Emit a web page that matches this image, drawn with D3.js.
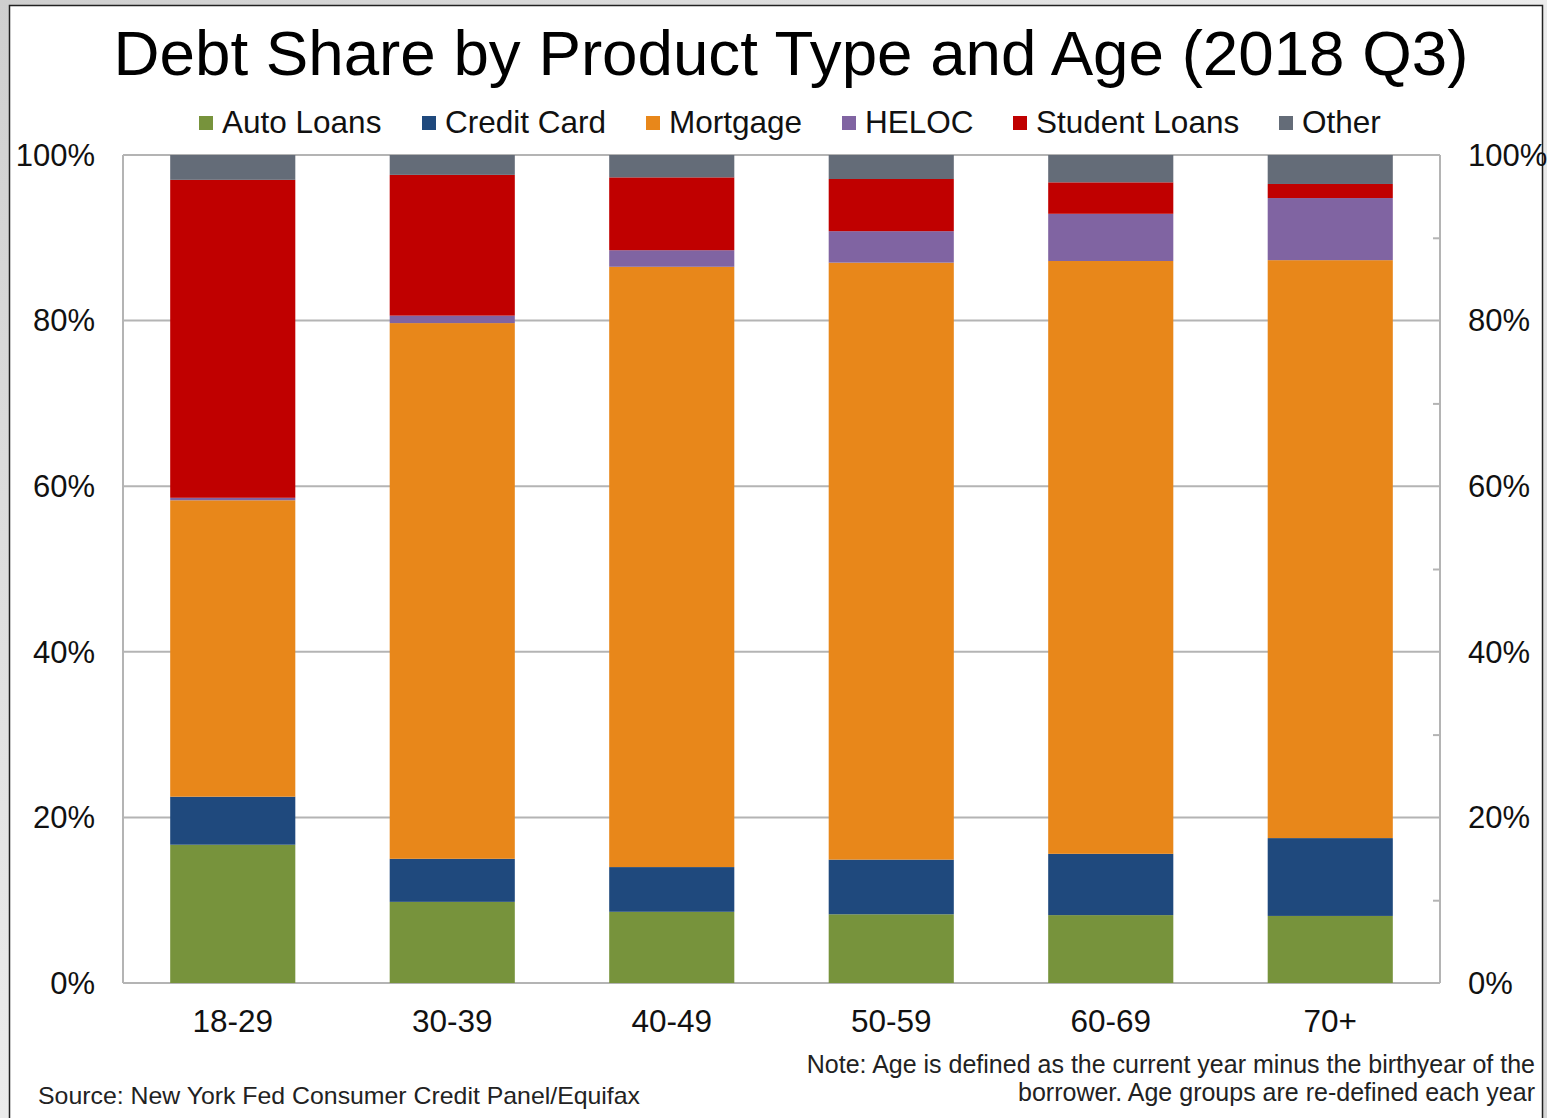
<!DOCTYPE html>
<html>
<head>
<meta charset="utf-8">
<script src="https://cdn.jsdelivr.net/npm/d3@7"></script>
<style>
  html, body { margin: 0; padding: 0; }
  body { width: 1547px; height: 1118px; overflow: hidden; background: #dcdcdc; }
  svg { display: block; font-family: "Liberation Sans", Arial, sans-serif; }
</style>
</head>
<body>
<svg id="chart" width="1547" height="1118"></svg>
<script>
const categories = ["18-29", "30-39", "40-49", "50-59", "60-69", "70+"];
const seriesNames = ["Auto Loans", "Credit Card", "Mortgage", "HELOC", "Student Loans", "Other"];
const autoLoans    = [16.7,  9.8,  8.6,  8.3,  8.2,  8.1];
const creditCard   = [ 5.8,  5.2,  5.4,  6.6,  7.4,  9.4];
const mortgage     = [35.8, 64.7, 72.5, 72.1, 71.6, 69.8];
const heloc        = [ 0.3,  0.9,  2.0,  3.8,  5.7,  7.5];
const studentLoans = [38.4, 17.0,  8.8,  6.3,  3.8,  1.7];
const other        = [ 3.0,  2.4,  2.7,  2.9,  3.3,  3.5];
const colors = ["#77933C", "#1F497D", "#E8871A", "#8064A2", "#C00000", "#646C78"];
const yTicks = [0, 20, 40, 60, 80, 100];
const yMinorTicks = [10, 30, 50, 70, 90];
const titleText = "Debt Share by Product Type and Age (2018 Q3)";
const sourceText = "Source: New York Fed Consumer Credit Panel/Equifax";
const noteLines = ["Note: Age is defined as the current year minus the birthyear of the",
                   "borrower. Age groups are re-defined each year"];

(function () {
const seriesValues = [autoLoans, creditCard, mortgage, heloc, studentLoans, other];
const rows = categories.map((c, i) => {
  const r = { cat: c };
  seriesNames.forEach((s, j) => r[s] = seriesValues[j][i]);
  return r;
});

const svg = d3.select("#chart");

// background texture
const defs = svg.append("defs");
const grad = defs.append("linearGradient").attr("id", "bg").attr("x1", 0).attr("y1", 0).attr("x2", 1).attr("y2", 1);
grad.append("stop").attr("offset", "0%").attr("stop-color", "#cfcfcf");
grad.append("stop").attr("offset", "50%").attr("stop-color", "#ececec");
grad.append("stop").attr("offset", "100%").attr("stop-color", "#d6d6d6");
svg.append("rect").attr("width", 1547).attr("height", 1118).attr("fill", "url(#bg)");

// white panel
svg.append("rect").attr("x", 9.5).attr("y", 5.5).attr("width", 1533).attr("height", 1130)
  .attr("fill", "#ffffff").attr("stroke", "#222").attr("stroke-width", 1.5);

const pLeft = 123, pRight = 1440, pTop = 155, pBottom = 983;

const x = d3.scaleBand().domain(categories).range([pLeft, pRight]).paddingInner(0.43).paddingOuter(0.215);
const y = d3.scaleLinear().domain([0, 100]).range([pBottom, pTop]);

// gridlines
svg.append("g").selectAll("line").data(yTicks).join("line")
  .attr("x1", pLeft).attr("x2", pRight)
  .attr("y1", d => y(d)).attr("y2", d => y(d))
  .attr("stroke", "#b4b4b4").attr("stroke-width", 2);

// left axis line
svg.append("line").attr("x1", pLeft).attr("x2", pLeft).attr("y1", pTop).attr("y2", pBottom)
  .attr("stroke", "#b4b4b4").attr("stroke-width", 2);

// stacked bars
const stacked = d3.stack().keys(seriesNames)(rows);
svg.append("g").selectAll("g").data(stacked).join("g")
  .attr("fill", (d, i) => colors[i])
  .selectAll("rect").data(d => d).join("rect")
  .attr("x", d => x(d.data.cat))
  .attr("width", x.bandwidth())
  .attr("y", d => y(d[1]))
  .attr("height", d => y(d[0]) - y(d[1]));

// right axis
const rightAxis = d3.axisRight(y).tickValues(yMinorTicks).tickSize(-7).tickFormat("");
const ra = svg.append("g").attr("transform", `translate(${pRight},0)`).call(rightAxis);
ra.select(".domain").remove();
ra.selectAll(".tick line").attr("stroke", "#b4b4b4").attr("stroke-width", 2);
svg.append("line").attr("x1", pRight).attr("x2", pRight).attr("y1", pTop).attr("y2", pBottom)
  .attr("stroke", "#b4b4b4").attr("stroke-width", 2);

// y labels
const fmt = d => d + "%";
svg.append("g").selectAll("text").data(yTicks).join("text")
  .attr("x", 95).attr("y", d => y(d)).attr("dy", "0.35em")
  .attr("text-anchor", "end").attr("font-size", 31).attr("fill", "#111")
  .text(fmt);
svg.append("g").selectAll("text").data(yTicks).join("text")
  .attr("x", 1468).attr("y", d => y(d)).attr("dy", "0.35em")
  .attr("text-anchor", "start").attr("font-size", 31).attr("fill", "#111")
  .text(fmt);

// x labels
svg.append("g").selectAll("text").data(categories).join("text")
  .attr("x", d => x(d) + x.bandwidth() / 2).attr("y", 1032)
  .attr("text-anchor", "middle").attr("font-size", 31.5).attr("fill", "#111")
  .text(d => d);

// title
svg.append("text").attr("x", 791).attr("y", 75).attr("text-anchor", "middle")
  .attr("font-size", 63.7).attr("fill", "#000").text(titleText);

// legend
const legendX = [199, 422, 646, 842, 1013, 1279];
const lg = svg.append("g").selectAll("g").data(seriesNames).join("g")
  .attr("transform", (d, i) => `translate(${legendX[i]},0)`);
lg.append("rect").attr("x", 0).attr("y", 116).attr("width", 14).attr("height", 14)
  .attr("fill", (d, i) => colors[i]);
lg.append("text").attr("x", 23).attr("y", 133).attr("font-size", 31.5).attr("fill", "#111")
  .text(d => d);

// source and note
svg.append("text").attr("x", 38).attr("y", 1104).attr("font-size", 24).attr("fill", "#222")
  .attr("textLength", 602).attr("lengthAdjust", "spacingAndGlyphs").text(sourceText);
svg.append("g").selectAll("text").data(noteLines).join("text")
  .attr("x", 1535).attr("y", (d, i) => 1073 + i * 28).attr("text-anchor", "end")
  .attr("font-size", 25).attr("fill", "#222").text(d => d);
})();
</script>
</body>
</html>
